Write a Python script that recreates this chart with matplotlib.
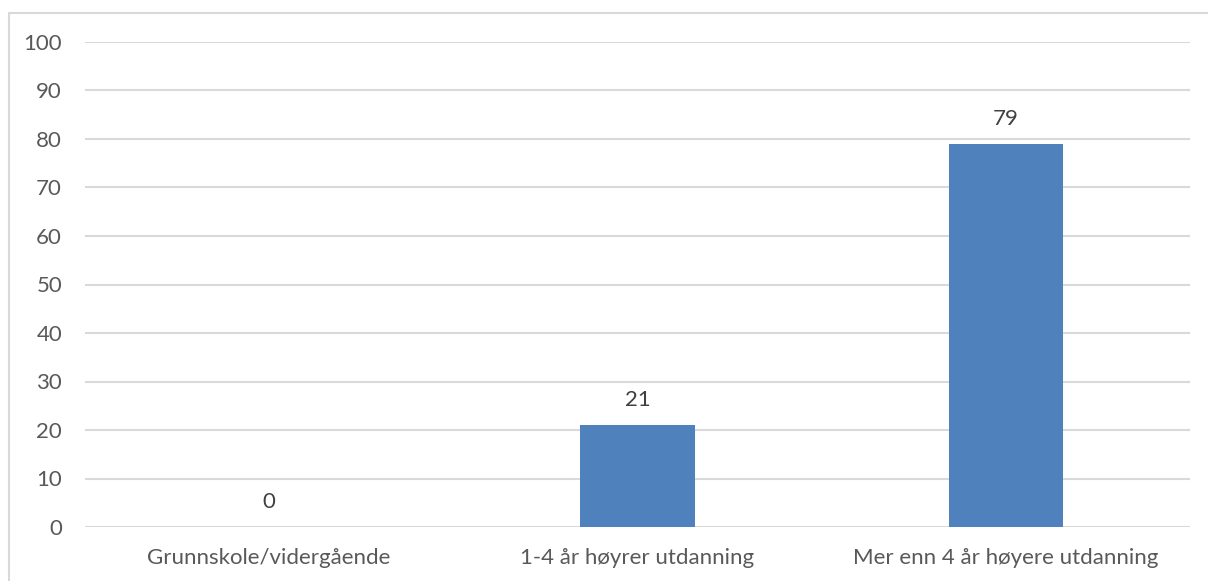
import matplotlib.pyplot as plt
from matplotlib.patches import Rectangle

categories = ["Grunnskole/vidergående", "1-4 år høyrer utdanning", "Mer enn 4 år høyere utdanning"]
values = [0, 21, 79]
yticks = list(range(0, 101, 10))

plt.rcParams['font.family'] = ['Lato', 'DejaVu Sans']

W, H = 1208, 581
fig = plt.figure(figsize=(W / 100, H / 100), dpi=100)
# plot area in pixels: x 85..1190, y 42 (100) .. 527 (0)
ax = fig.add_axes([85 / W, 1 - 527 / H, (1190 - 85) / W, (527 - 42) / H])

x = range(len(categories))
bars = ax.bar(x, values, width=0.31, color="#4F81BD", zorder=3)
for xi, v in zip(x, values):
    ax.text(xi, v + 5.2, str(v), ha="center", va="center", fontsize=16, color="#404040")

ax.set_xlim(-0.5, len(categories) - 0.5)
ax.set_ylim(0, 100)
ax.set_yticks(yticks)
ax.set_xticks(list(x))
ax.set_xticklabels(categories)
ax.grid(axis="y", color="#D9D9D9", linewidth=1.5, zorder=0)
ax.tick_params(axis="both", length=0, labelsize=16, colors="#595959")
ax.tick_params(axis="y", pad=16.5)
ax.tick_params(axis="x", pad=15)
for s in ax.spines.values():
    s.set_visible(False)

# chart frame
fig.patches.append(Rectangle((9 / W, -0.1), 1.2, 1 - 13 / H + 0.1, transform=fig.transFigure,
                             fill=False, edgecolor="#D9D9D9", linewidth=1.5))

fig.savefig("out.png", dpi=100)
